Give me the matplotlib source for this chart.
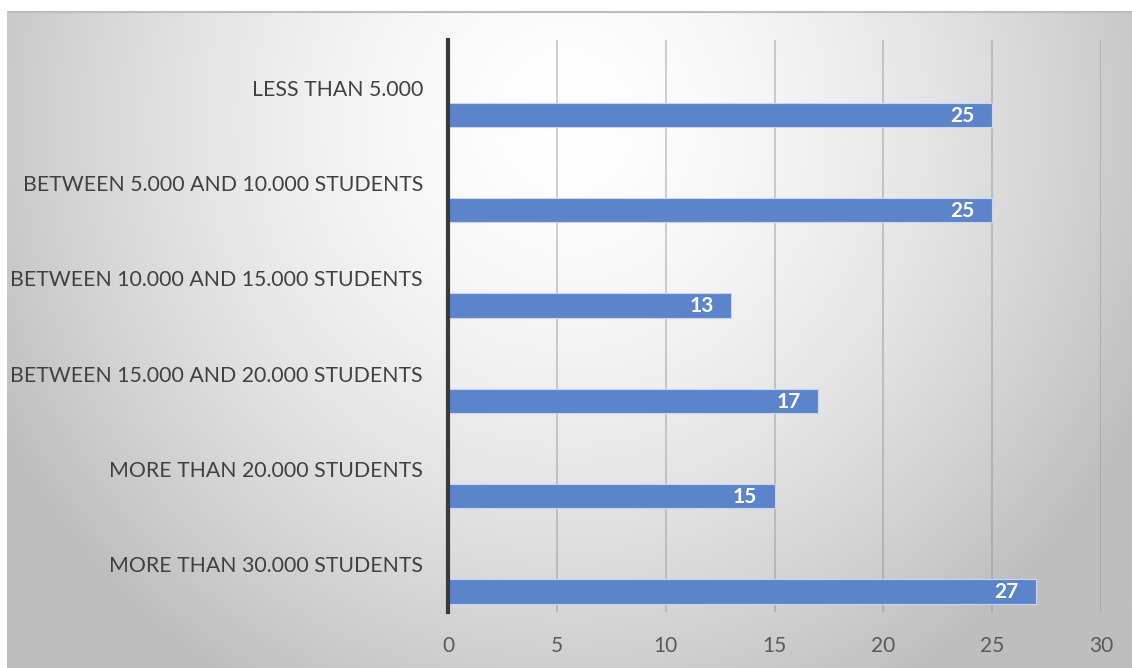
import numpy as np
import matplotlib
matplotlib.use("Agg")
import matplotlib.pyplot as plt

categories = ["LESS THAN 5.000",
              "BETWEEN 5.000 AND 10.000 STUDENTS",
              "BETWEEN 10.000 AND 15.000 STUDENTS",
              "BETWEEN 15.000 AND 20.000 STUDENTS",
              "MORE THAN 20.000 STUDENTS",
              "MORE THAN 30.000 STUDENTS"]
values = [25, 25, 13, 17, 15, 27]
xticks = [0, 5, 10, 15, 20, 25, 30]

W, H = 1132, 668
fig = plt.figure(figsize=(W / 100, H / 100), dpi=100)
fig.patch.set_facecolor("white")

# background panel with radial gradient
px0, py0 = 7, 11
bg = fig.add_axes([px0 / W, 0, 1 - px0 / W, 1 - py0 / H])
bg.set_axis_off()
gx = np.linspace(px0, W, 400)
gy = np.linspace(py0, H, 300)
X, Y = np.meshgrid(gx, gy)
d = np.sqrt(((X - 566) / 640) ** 2 + ((Y - 120) / 660) ** 2)
v = 255 - 65 * np.clip(d, 0, 1.3) ** 1.6
v = np.clip(v, 190, 255) / 255
img = np.dstack([v, v, v])
bg.imshow(img, aspect="auto", extent=[0, 1, 0, 1], origin="upper")
bg.set_xlim(0, 1)
bg.set_ylim(0, 1)
bg.plot([0, 1], [0.998, 0.998], color="#bdbdbd", lw=1.5)

left, right, top, bottom = 448, 1101, 40, 612
ax = fig.add_axes([left / W, 1 - bottom / H, (right - left) / W, (bottom - top) / H])
ax.patch.set_alpha(0)

ypos = np.arange(len(categories))
bars = ax.barh(ypos + 0.285, values, height=0.255, color="#5b84cb",
               edgecolor="#c9d6ef", linewidth=0.8, zorder=3)
for y, val in zip(ypos, values):
    ax.text(val - 0.8, y + 0.295, str(val), ha="right", va="center",
            color="white", fontsize=15, fontweight="bold", family="Lato", zorder=4)

ax.set_ylim(len(categories) - 0.5, -0.5)
ax.set_xlim(0, 30)
ax.set_xticks(xticks)
ax.set_xticklabels([str(t) for t in xticks], family="Lato", fontsize=15, color="#595959")
ax.set_yticks(ypos)
ax.set_yticklabels(categories, family="Lato", fontsize=15.3, color="#404040")
ax.tick_params(axis="y", length=0, pad=18)
ax.tick_params(axis="x", length=0, pad=17)
ax.grid(axis="x", color="#8c8c8c", alpha=0.45, lw=1.3, zorder=0)
for s in ["top", "right", "bottom"]:
    ax.spines[s].set_visible(False)
ax.spines["left"].set_color("#3a3a3a")
ax.spines["left"].set_linewidth(3)
ax.spines["left"].set_zorder(5)

fig.savefig("out.png", dpi=100)
